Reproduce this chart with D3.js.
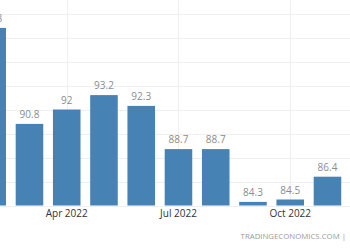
<!DOCTYPE html>
<html>
  <head>
    <meta charset="utf-8">
    <script src="https://d3js.org/d3.v7.min.js"></script>
    <style>
      body { margin: 0; background: #fff; }
      svg { display: block; font-family: "Open Sans", "DejaVu Sans", sans-serif; }
    </style>
  </head>
  <body>
    <script>
    // values (Feb 2022 is cut off at the left edge)
    var months = ['Feb 2022', 'Mar 2022', 'Apr 2022', 'May 2022', 'Jun 2022',
                  'Jul 2022', 'Aug 2022', 'Sep 2022', 'Oct 2022', 'Nov 2022'];
    var values = [98.8, 90.8, 92, 93.2, 92.3, 88.7, 88.7, 84.3, 84.5, 86.4];
    var labels = ['98.8', '90.8', '92', '93.2', '92.3', '88.7', '88.7', '84.3', '84.5', '86.4'];
    var tickMonths = ['Apr 2022', 'Jul 2022', 'Oct 2022'];
    var gridValues = [84, 86, 88, 90, 92, 94, 96, 98, 100];

    var width = 350;
    var height = 250;

    var svg = d3.select('body').append('svg')
      .attr('width', width)
      .attr('height', height);

    var x = d3.scaleBand()
      .domain(months)
      .range([-26.4, 346.1])
      .paddingInner(0.26)
      .paddingOuter(0.13);

    var y = d3.scaleLinear()
      .domain([84, 100])
      .range([205.5, 13.5]);

    // horizontal grid
    svg.append('g')
      .selectAll('line')
      .data(gridValues)
      .enter().append('line')
      .attr('x1', 0)
      .attr('x2', width)
      .attr('y1', function(d) { return Math.round(y(d)) + 0.5; })
      .attr('y2', function(d) { return Math.round(y(d)) + 0.5; })
      .style('stroke', '#efefef')
      .style('stroke-width', 1);

    // vertical grid at the labelled months
    svg.append('g')
      .selectAll('line')
      .data(tickMonths)
      .enter().append('line')
      .attr('x1', function(d) { return Math.round(x(d) + x.bandwidth() / 2) + 0.5; })
      .attr('x2', function(d) { return Math.round(x(d) + x.bandwidth() / 2) + 0.5; })
      .attr('y1', 0)
      .attr('y2', y(84))
      .style('stroke', '#efefef')
      .style('stroke-width', 1);

    var data = months.map(function(m, i) { return {month: m, value: values[i], label: labels[i]}; });

    svg.append('g')
      .selectAll('rect')
      .data(data)
      .enter().append('rect')
      .attr('x', function(d) { return x(d.month); })
      .attr('width', x.bandwidth())
      .attr('y', function(d) { return y(d.value); })
      .attr('height', function(d) { return y(84) - y(d.value); })
      .style('fill', '#4682b4');

    svg.append('g')
      .selectAll('text')
      .data(data)
      .enter().append('text')
      .attr('x', function(d) { return x(d.month) + x.bandwidth() / 2; })
      .attr('y', function(d) { return y(d.value) - 6; })
      .attr('text-anchor', 'middle')
      .style('font-size', '10px')
      .style('fill', '#8c8c8c')
      .text(function(d) { return d.label; });

    // x axis labels
    var xAxis = d3.axisBottom(x)
      .tickValues(tickMonths)
      .tickSize(0)
      .tickPadding(4);

    var gx = svg.append('g')
      .attr('transform', 'translate(0,' + y(84) + ')')
      .call(xAxis);
    gx.select('.domain').remove();
    gx.selectAll('text')
      .style('font-size', '10px')
      .style('font-family', '"Open Sans", "DejaVu Sans", sans-serif')
      .style('fill', '#333');

    svg.append('text')
      .attr('x', 346)
      .attr('y', 239)
      .attr('text-anchor', 'end')
      .style('font-size', '7.8px')
      .style('fill', '#9a9a9a')
      .text('TRADINGECONOMICS.COM |');
    </script>
  </body>
</html>
